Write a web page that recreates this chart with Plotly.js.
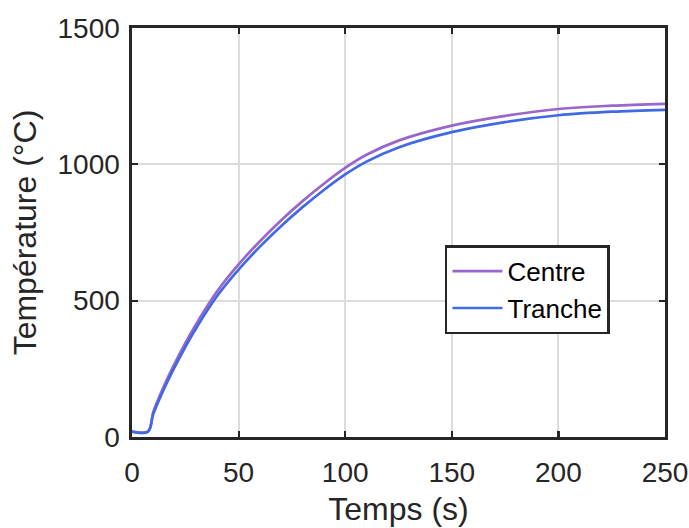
<!DOCTYPE html>
<html>
<head>
<meta charset="utf-8">
<script src="https://cdn.plot.ly/plotly-3.0.1.min.js"></script>
<style>html,body{margin:0;padding:0;background:#fff;}#chart{width:689px;height:528px;}</style>
</head>
<body>
<div id="chart"></div>
<script>
// Time (s)
const timeS = [0, 7.5, 10, 15, 20, 25, 30, 40, 50, 60, 70, 80, 90, 100, 110, 125, 150, 175, 200, 225, 250];
// Temperature at centre (°C)
const centre = [20, 20, 92, 187, 269, 344, 413, 535, 633, 718, 795, 865, 929, 987, 1035, 1087, 1142, 1178, 1203, 1215, 1222];
// Temperature at slice / edge (°C)
const tranche = [20, 20, 84, 176, 256, 330, 398, 518, 614, 698, 774, 843, 906, 963, 1010, 1062, 1118, 1155, 1180, 1193, 1200];
const seriesNames = ["Centre", "Tranche"];
const xTicks = [0, 50, 100, 150, 200, 250];
const yTicks = [0, 500, 1000, 1500];

const font = "Liberation Sans, Arial, sans-serif";
const txt = "#262626";

const traces = [
  {x: timeS, y: centre, name: seriesNames[0], type: "scatter", mode: "lines",
   line: {color: "#9966CC", width: 2.7, shape: "spline", smoothing: 1}},
  {x: timeS, y: tranche, name: seriesNames[1], type: "scatter", mode: "lines",
   line: {color: "#4169E1", width: 2.7, shape: "spline", smoothing: 1}}
];

const axisCommon = {
  showline: true, linecolor: txt, linewidth: 2.6, mirror: "ticks",
  ticks: "inside", ticklen: 6, tickwidth: 2.2, tickcolor: txt,
  showgrid: true, gridcolor: "#dcdcdc", gridwidth: 2,
  zeroline: false, tickfont: {family: font, size: 28, color: txt}
};

const layout = {
  width: 689, height: 528,
  margin: {l: 132, r: 24, t: 28, b: 91},
  paper_bgcolor: "#fff", plot_bgcolor: "#fff",
  showlegend: true,
  xaxis: Object.assign({}, axisCommon, {
    range: [0, 250], tickvals: xTicks, ticktext: xTicks.map(String),
    ticklabelstandoff: 9,
    title: {text: "Temps (s)", font: {family: font, size: 32, color: txt}, standoff: 11}
  }),
  yaxis: Object.assign({}, axisCommon, {
    range: [0, 1500], tickvals: yTicks, ticktext: yTicks.map(String),
    ticklabelstandoff: 4,
    title: {text: "Température (°C)", font: {family: font, size: 32, color: txt}, standoff: 12}
  }),
  legend: {
    x: 0.587, y: 0.469, xanchor: "left", yanchor: "top",
    bgcolor: "#fff", bordercolor: txt, borderwidth: 2.6,
    font: {family: font, size: 26, color: "#000"},
    tracegroupgap: 0, itemwidth: 50
  }
};

Plotly.newPlot("chart", traces, layout, {displayModeBar: false, staticPlot: true});
</script>
</body>
</html>
